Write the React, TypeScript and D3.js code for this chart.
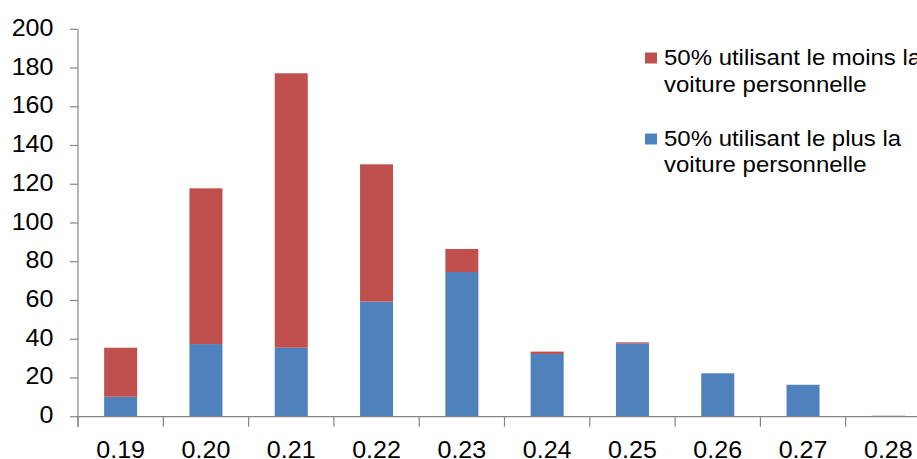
import React from "react";
import * as d3 from "d3";

const categories = ["0.19", "0.20", "0.21", "0.22", "0.23", "0.24", "0.25", "0.26", "0.27", "0.28"];
const plusValues = [10.3, 37.5, 35.6, 59.4, 74.7, 32.4, 37.7, 22.4, 16.5, 0.5];
const moinsValues = [25.3, 80.4, 141.7, 70.9, 11.9, 1.2, 0.7, 0, 0, 0];
const yTicks = [0, 20, 40, 60, 80, 100, 120, 140, 160, 180, 200];
const seriesNames = ["50% utilisant le moins la|voiture personnelle", "50% utilisant le plus la|voiture personnelle"];

const BLUE = "#4F81BD";
const RED = "#C0504D";
const AXIS = "#868686";
const FONT = "'Liberation Sans', Arial, sans-serif";

export default function App() {
  const W = 917, H = 459;
  const x0 = 78, x1 = 931;
  const y0 = 416.7, yTop = 29.3;
  const x = d3.scaleBand<string>().domain(categories).range([x0, x1]).paddingInner(0).paddingOuter(0);
  const y = d3.scaleLinear().domain([0, 200]).range([y0, yTop]);
  const table = categories.map((c, i) => ({ cat: c, plus: plusValues[i], moins: moinsValues[i] }));
  const stacked = d3.stack<any>().keys(["plus", "moins"])(table);
  const colors: Record<string, string> = { plus: BLUE, moins: RED };
  const bw = x.step() * 0.387;
  const sx = 1.09;

  const legend = [
    { color: RED, label: seriesNames[0], sq: 58, base: 65 },
    { color: BLUE, label: seriesNames[1], sq: 139, base: 145.5 },
  ];

  return (
    <svg width={W} height={H} style={{ position: "absolute", left: 0, top: 0, background: "#fff" }} fontFamily={FONT}>
      {stacked.map((s) => (
        <g key={s.key} fill={colors[s.key]}>
          {s.map((d, i) => {
            const h = y(d[0]) - y(d[1]);
            if (h <= 0) return null;
            const cx = (x(categories[i]) as number) + x.step() / 2;
            return <rect key={i} x={cx - bw / 2} y={y(d[1])} width={bw} height={h} />;
          })}
        </g>
      ))}
      {/* y axis */}
      <line x1={x0} x2={x0} y1={yTop} y2={y0 + 10} stroke={AXIS} strokeWidth={1.2} />
      {yTicks.map((t) => (
        <g key={t}>
          <line x1={x0 - 8} x2={x0} y1={y(t)} y2={y(t)} stroke={AXIS} strokeWidth={1.2} />
          <text transform={`translate(53.5,${y(t) + 6.5}) scale(${sx},1)`} textAnchor="end" fontSize={23} fill="#000">
            {t}
          </text>
        </g>
      ))}
      {/* x axis */}
      <line x1={x0} x2={x1} y1={y0} y2={y0} stroke={AXIS} strokeWidth={1.2} />
      {categories.map((c, i) => (
        <line key={"t" + i} x1={x(c) as number} x2={x(c) as number} y1={y0} y2={y0 + 10} stroke={AXIS} strokeWidth={1.2} />
      ))}
      {categories.map((c) => (
        <text key={c} transform={`translate(${(x(c) as number) + x.step() / 2},458) scale(${sx},1)`} textAnchor="middle" fontSize={23} fill="#000">
          {c}
        </text>
      ))}
      {/* legend */}
      {legend.map((l, i) => (
        <g key={i}>
          <rect x={645} y={l.sq - 5.5} width={12} height={11} fill={l.color} />
          {l.label.split("|").map((line, j) => (
            <text key={j} transform={`translate(664,${l.base + j * 26.5}) scale(${sx},1)`} fontSize={22} fill="#000">
              {line}
            </text>
          ))}
        </g>
      ))}
    </svg>
  );
}
